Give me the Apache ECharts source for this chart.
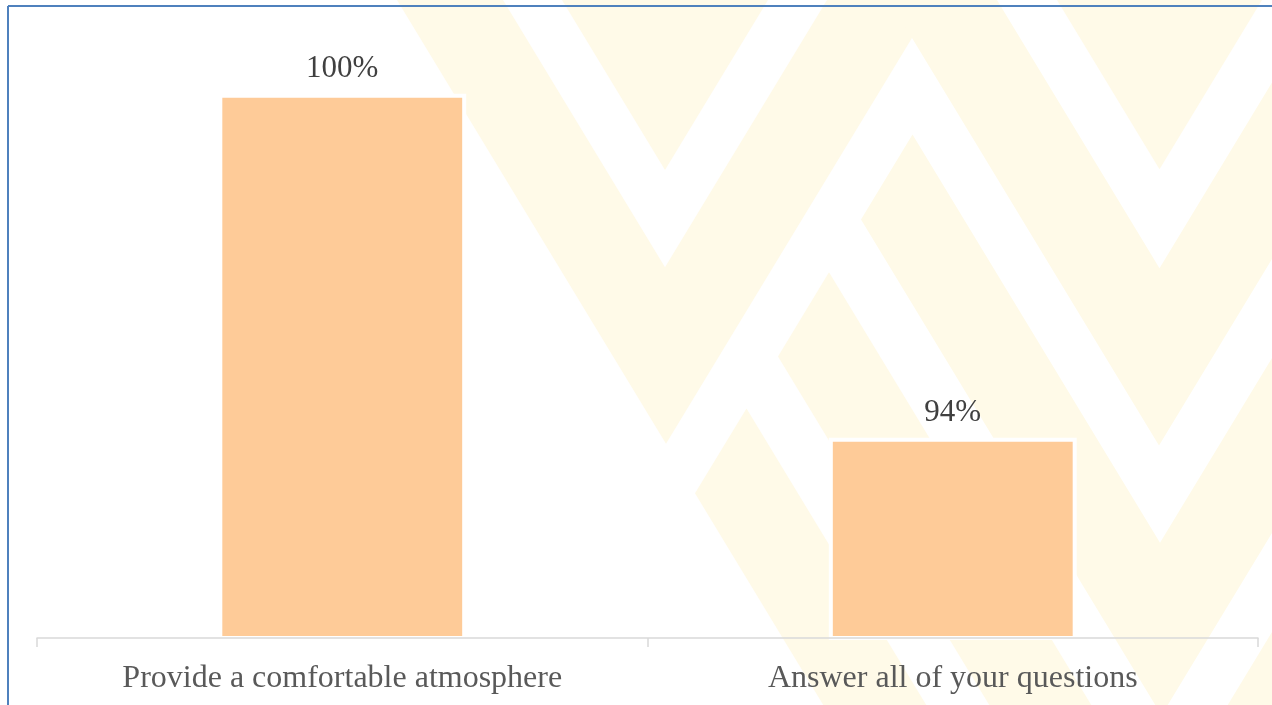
<!DOCTYPE html>
<html>
<head>
<meta charset="utf-8">
<script src="https://cdn.jsdelivr.net/npm/echarts@6/dist/echarts.min.js"></script>
<style>
  html, body { margin: 0; padding: 0; background: #fff; }
  #chart { width: 1272px; height: 705px; }
</style>
</head>
<body>
<div id="chart"></div>
<script>
const categories = ["Provide a comfortable atmosphere", "Answer all of your questions"];
const values = [100, 94];

// faint "W" watermark in the background (lines of slope 1.65)
const m = 1 / 1.65;
function cut(c, k) { return [(c + k) / 2, (k - c) / (2 * m)]; }
function onC(c, y) { return [c + y * m, y]; }
function onK(k, y) { return [k - y * m, y]; }
const marks = [
  [[562, 0], [768, 0], cut(562, 768)],
  [[397, 0], [503, 0], cut(503, 827), [827, 0], [935, 0], cut(397, 935)],
  [[889, 0], [997, 0], cut(997, 1322), [1322, 0], [1429, 0], cut(889, 1429)],
  [[1057, 0], [1262, 0], cut(1057, 1262)],
  [cut(728, 994), cut(831, 994), cut(831, 1489), [1489, 0], [1595, 0], cut(728, 1595)],
  [cut(664, 994), onC(664, 760), onC(562, 760), cut(562, 994)],
  [cut(499, 994), onC(499, 760), onC(396, 760), cut(396, 994)],
  [[1655, 0], [1761, 0], onK(1761, 760), onK(1655, 760)]
];

const chart = echarts.init(document.getElementById("chart"));
const font = "'Liberation Serif', 'Times New Roman', serif";

const bg = marks.map(pts => ({
  type: "polygon",
  silent: true,
  z: -10,
  shape: { points: pts },
  style: { fill: "#fffae8" }
}));

chart.setOption({
  backgroundColor: "#fff",
  animation: false,
  graphic: {
    elements: bg.concat([
      { type: "line", z: 100, silent: true, shape: { x1: 8, y1: 6, x2: 1272, y2: 6 }, style: { stroke: "#4f81bd", lineWidth: 2 } },
      { type: "line", z: 100, silent: true, shape: { x1: 8, y1: 6, x2: 8, y2: 705 }, style: { stroke: "#4f81bd", lineWidth: 2 } }
    ])
  },
  grid: { left: 37, right: 14, top: 93.7, bottom: 67, containLabel: false },
  xAxis: {
    type: "category",
    data: categories,
    z: 3,
    axisLine: { lineStyle: { color: "#d9d9d9", width: 1.5 } },
    axisTick: { show: true, length: 9, lineStyle: { color: "#d9d9d9", width: 1.5 } },
    axisLabel: { color: "#595959", fontFamily: font, fontSize: 32, margin: 25 }
  },
  yAxis: {
    type: "value",
    min: 90.51,
    max: 100,
    show: false,
    splitLine: { show: false }
  },
  series: [{
    type: "bar",
    data: values,
    barWidth: "40.6%",
    itemStyle: { color: "#fecb98", borderColor: "#fff", borderWidth: 4 },
    label: {
      show: true,
      position: "top",
      distance: 9,
      formatter: "{c}%",
      color: "#404040",
      fontFamily: font,
      fontSize: 31
    }
  }]
});
</script>
</body>
</html>
